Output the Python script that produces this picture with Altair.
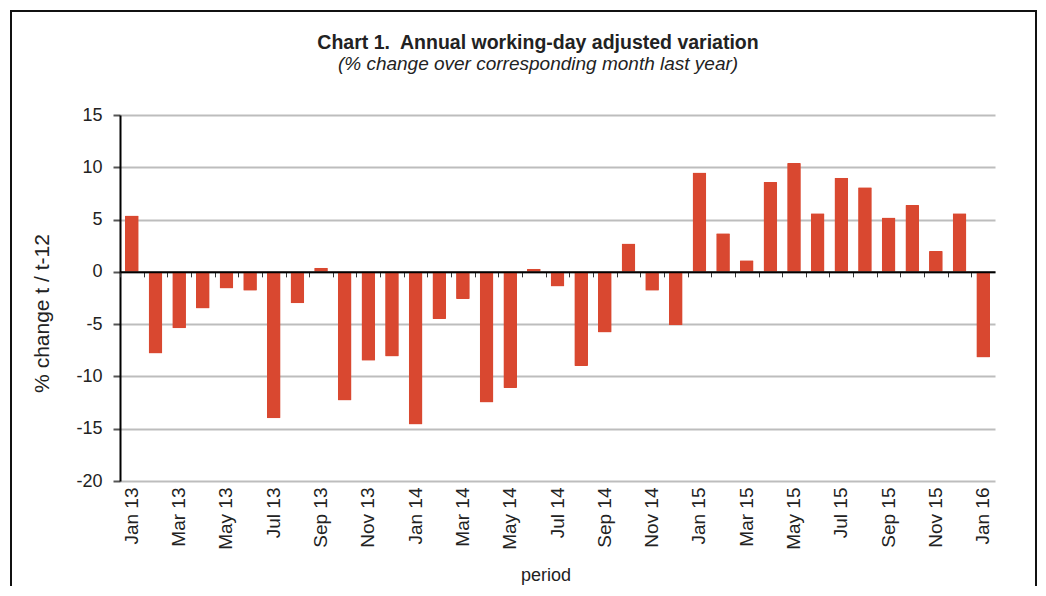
import altair as alt
import pandas as pd

months = ["Jan", "Feb", "Mar", "Apr", "May", "Jun", "Jul", "Aug", "Sep", "Oct", "Nov", "Dec"]
periods = [f"{m} {y}" for y in ["13", "14", "15"] for m in months] + ["Jan 16"]
values = [5.4, -7.8, -5.4, -3.5, -1.6, -1.8, -14.0, -3.0, 0.4, -12.3, -8.5, -8.1,
          -14.6, -4.5, -2.6, -12.5, -11.1, 0.3, -1.4, -9.0, -5.8, 2.7, -1.8, -5.1,
          9.5, 3.7, 1.1, 8.6, 10.4, 5.6, 9.0, 8.1, 5.2, 6.4, 2.0, 5.6,
          -8.2]
label_periods = periods[::2]
y_ticks = [-20, -15, -10, -5, 0, 5, 10, 15]
title_text = "Chart 1.\u00a0 Annual working-day adjusted variation"
subtitle_text = "(% change over corresponding month last year)"

df = pd.DataFrame({"period": periods, "value": values})

W, H = 875, 366
N = len(periods)
PI = 0.42
step = W / N
FONT = "Liberation Sans"
TXT = "#222"

xscale = alt.Scale(paddingInner=PI, paddingOuter=PI / 2)
yscale = alt.Scale(domain=[-20, 15], nice=False)

bars = alt.Chart(df).mark_bar(color="#d94830", cornerRadius=1).encode(
    x=alt.X("period:N", sort=periods, scale=xscale,
            axis=alt.Axis(values=label_periods, labelAngle=-90, ticks=False, domain=False,
                          grid=False, labelFontSize=19, labelFont=FONT, labelColor=TXT,
                          labelPadding=6, title="period", titleFont=FONT, titleFontSize=18,
                          titleFontWeight="normal", titleColor=TXT, titlePadding=17,
                          titleX=W / 2 - 12, labelBaseline="middle")),
    y=alt.Y("value:Q", scale=yscale,
            axis=alt.Axis(values=y_ticks, grid=True, gridColor="#bdbdbd", gridWidth=2,
                          domainColor="#000", domainWidth=2, tickColor="#555", tickSize=7,
                          tickWidth=2, labelFontSize=18, labelFont=FONT, labelColor=TXT,
                          labelPadding=11, labelExpr="'' + datum.value",
                          title="% change t / t-12", titleFont=FONT,
                          titleFontSize=21, titleFontWeight="normal", titleColor=TXT,
                          titleX=-68, titleY=198)),
)

zero_axis = alt.Chart(df).mark_point(opacity=0).encode(
    x=alt.X("period:N", sort=periods, scale=xscale,
            axis=alt.Axis(orient="bottom", offset=-(H * 20 / 35), labels=False, title=None,
                          grid=False, domainColor="#000", domainWidth=2, tickColor="#333",
                          tickSize=5, tickWidth=1, tickOffset=-step / 2, zindex=2)),
)

one = pd.DataFrame({"title": [title_text], "subtitle": [subtitle_text]})
frame = alt.Chart(one).mark_rect(fillOpacity=0, stroke="#111", strokeWidth=2).encode(
    x=alt.value(-109), x2=alt.value(916), y=alt.value(-104), y2=alt.value(620)
)
title = alt.Chart(one).mark_text(font=FONT, fontSize=19.5, fontWeight="bold", color=TXT,
                                 align="center", baseline="alphabetic").encode(
    x=alt.value(418), y=alt.value(-66), text="title:N"
)
subtitle = alt.Chart(one).mark_text(font=FONT, fontSize=19, fontStyle="italic", color=TXT,
                                    align="center", baseline="alphabetic").encode(
    x=alt.value(418), y=alt.value(-45), text="subtitle:N"
)

chart = alt.layer(bars, zero_axis, frame, title, subtitle).resolve_axis(x="independent").properties(
    width=W, height=H,
    autosize=alt.AutoSizeParams(type="none"),
    padding={"left": 112, "top": 107, "right": 43, "bottom": 105},
).configure_view(stroke=None)

chart.save("out.html", embed_options={"renderer": "svg", "actions": False})
